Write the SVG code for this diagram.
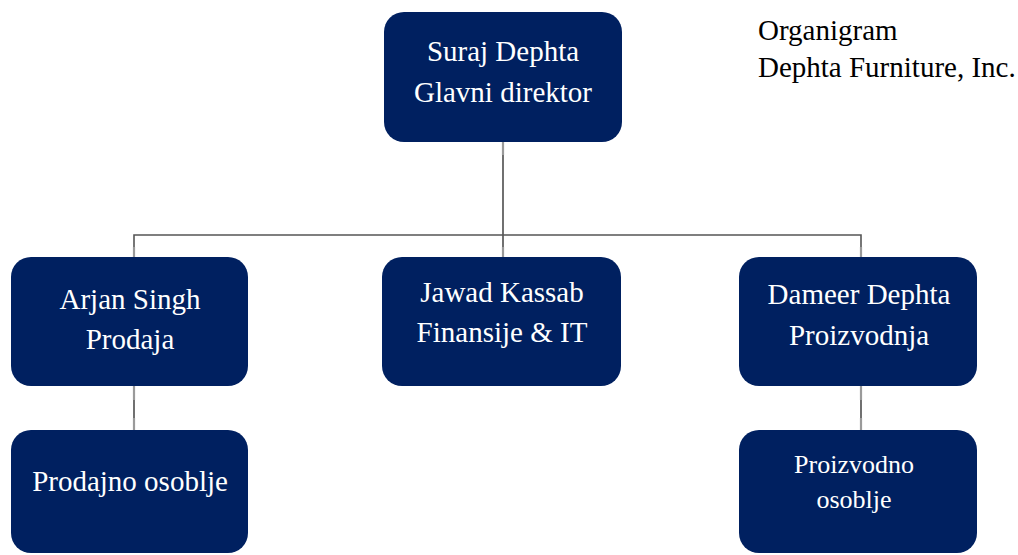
<svg xmlns="http://www.w3.org/2000/svg" width="1018" height="555" viewBox="0 0 1018 555">
  <style>
    .box { fill: #002060; }
    .lbl { font-family: "Liberation Serif", "Times New Roman", serif; font-size: 29px; fill: #ffffff; text-anchor: middle; }
    .lbl-sm { font-size: 26px; }
    .title { font-family: "Liberation Serif", "Times New Roman", serif; font-size: 29px; fill: #000000; }
    .link { stroke: #111111; stroke-width: 1.2; fill: none; }
    .bus { stroke: #555555; stroke-width: 1.6; fill: none; }
    .stub { stroke: #9a9a9a; stroke-width: 2.2; fill: none; }
  </style>
  <rect width="1018" height="555" fill="#ffffff"/>

  <g id="connectors">
    <!-- trunk from the director down to the bus -->
    <line class="link" x1="503" y1="142" x2="503" y2="257"/>
    <!-- horizontal bus -->
    <polyline class="bus" points="134,257 134,235 861,235 861,257"/>
    <!-- drops to the staff boxes -->
    <line class="link" x1="134" y1="386" x2="134" y2="430"/>
    <line class="link" x1="861" y1="386" x2="861" y2="430"/>
    <!-- lighter joints where lines meet boxes -->
    <line class="stub" x1="503" y1="142" x2="503" y2="155"/>
    <line class="stub" x1="503" y1="247" x2="503" y2="257"/>
    <line class="stub" x1="134" y1="247" x2="134" y2="257"/>
    <line class="stub" x1="861" y1="247" x2="861" y2="257"/>
    <line class="stub" x1="134" y1="386" x2="134" y2="400"/>
    <line class="stub" x1="134" y1="418" x2="134" y2="430"/>
    <line class="stub" x1="861" y1="386" x2="861" y2="400"/>
    <line class="stub" x1="861" y1="418" x2="861" y2="430"/>
  </g>

  <g id="ceo">
    <rect class="box" x="384" y="12" width="238" height="130" rx="20"/>
    <text class="lbl" x="503" y="61">Suraj Dephta</text>
    <text class="lbl" x="503" y="102">Glavni direktor</text>
  </g>

  <g id="sales">
    <rect class="box" x="11" y="257" width="237" height="129" rx="20"/>
    <text class="lbl" x="130" y="309">Arjan Singh</text>
    <text class="lbl" x="130" y="349">Prodaja</text>
  </g>

  <g id="finance">
    <rect class="box" x="382" y="257" width="239" height="129" rx="20"/>
    <text class="lbl" x="502" y="302">Jawad Kassab</text>
    <text class="lbl" x="502" y="342">Finansije &amp; IT</text>
  </g>

  <g id="production">
    <rect class="box" x="739" y="257" width="238" height="129" rx="20"/>
    <text class="lbl" x="859" y="304">Dameer Dephta</text>
    <text class="lbl" x="859" y="345">Proizvodnja</text>
  </g>

  <g id="sales-staff">
    <rect class="box" x="11" y="430" width="237" height="123" rx="20"/>
    <text class="lbl" x="130" y="491">Prodajno osoblje</text>
  </g>

  <g id="production-staff">
    <rect class="box" x="739" y="430" width="238" height="123" rx="20"/>
    <text class="lbl lbl-sm" x="854" y="473">Proizvodno</text>
    <text class="lbl lbl-sm" x="854" y="508">osoblje</text>
  </g>

  <g id="heading">
    <text class="title" x="758" y="40">Organigram</text>
    <text class="title" x="758" y="77">Dephta Furniture, Inc.</text>
  </g>
</svg>
